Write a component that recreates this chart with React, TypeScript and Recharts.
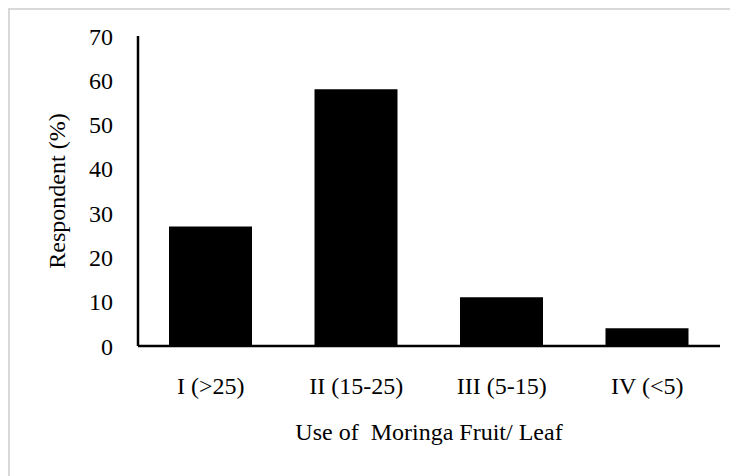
import React from 'react';
import { BarChart, Bar, XAxis, YAxis } from 'recharts';

const categories = ['I (>25)', 'II (15-25)', 'III (5-15)', 'IV (<5)'];
const respondents = [27, 58, 11, 4];
const yTicks = [0, 10, 20, 30, 40, 50, 60, 70];

const data = categories.map((name, i) => ({ name, value: respondents[i] }));

const FONT = 'Liberation Serif, Times New Roman, Tinos, DejaVu Serif, serif';

const YTitle = (props: any) => {
  const { viewBox } = props;
  const cx = 47;
  const cy = viewBox.y + viewBox.height / 2;
  return (
    <text
      x={cx}
      y={cy}
      dy="0.35em"
      textAnchor="middle"
      transform={`rotate(-90, ${cx}, ${cy})`}
      style={{ fontFamily: FONT, fontSize: 24 }}
      fill="#000"
    >
      Respondent (%)
    </text>
  );
};

const App = () => {
  return (
    <div
      style={{
        position: 'relative',
        width: 730,
        height: 468,
        boxSizing: 'border-box',
        borderLeft: '2px solid #d9d9d9',
        borderTop: '2px solid #d9d9d9',
        background: '#fff',
        fontFamily: FONT,
      }}
    >
      <BarChart
        width={728}
        height={466}
        data={data}
        margin={{ top: 26, right: 18, left: 0, bottom: 0 }}
        style={{ fontFamily: FONT }}
      >
        <XAxis
          dataKey="name"
          height={130}
          axisLine={{ stroke: '#000', strokeWidth: 2.5 }}
          tickLine={false}
          tickSize={0}
          tickMargin={31}
          interval={0}
          tick={{ fontSize: 24, fill: '#000', style: { fontFamily: FONT } }}
          label={{
            value: 'Use of \u00a0Moringa Fruit/ Leaf',
            position: 'insideBottom',
            offset: 36,
            fontSize: 24,
            fill: '#000',
            style: { fontFamily: FONT },
          }}
        />
        <YAxis
          width={128}
          domain={[0, 70]}
          ticks={yTicks}
          interval={0}
          axisLine={{ stroke: '#000', strokeWidth: 2.5 }}
          tickLine={false}
          tickSize={0}
          tickMargin={25}
          tick={{ fontSize: 24, fill: '#000', style: { fontFamily: FONT } }}
          label={{ content: YTitle }}
        />
        <Bar dataKey="value" fill="#000" barSize={83} isAnimationActive={false} />
      </BarChart>
    </div>
  );
};

export default App;
